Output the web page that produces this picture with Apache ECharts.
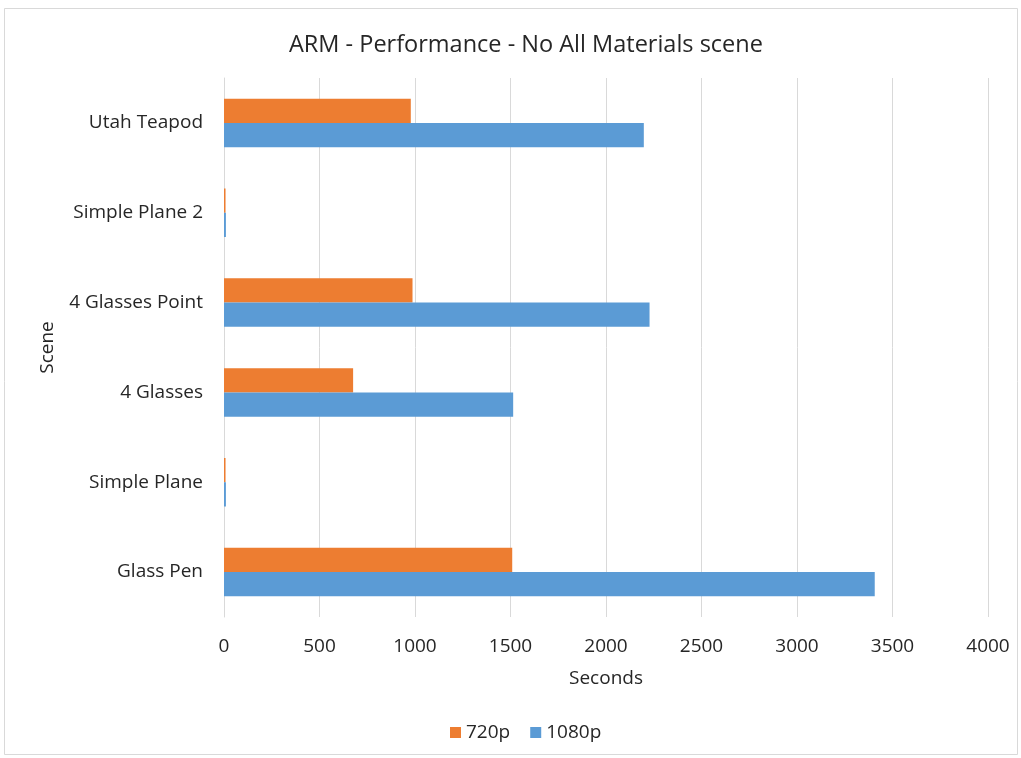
<!DOCTYPE html>
<html>
<head>
<meta charset="utf-8">
<script src="https://cdn.jsdelivr.net/npm/echarts@6/dist/echarts.min.js"></script>
<style>
  html, body { margin: 0; padding: 0; background: #fff; }
  #chart { width: 1021px; height: 758px; }
</style>
</head>
<body>
<div id="chart"></div>
<script>
// Scenes, listed bottom to top along the category axis
const scenes = ['Glass Pen', 'Simple Plane', '4 Glasses', '4 Glasses Point', 'Simple Plane 2', 'Utah Teapod'];
// Render times in seconds
const seconds720p = [1509, 8, 676, 987, 8, 978];
const seconds1080p = [3407, 10, 1514, 2228, 10, 2198];
const xTicks = [0, 500, 1000, 1500, 2000, 2500, 3000, 3500, 4000];

const FONT = '"Open Sans", Lato, sans-serif';
const TEXT = '#262626';
const chart = echarts.init(document.getElementById('chart'));

chart.setOption({
  backgroundColor: '#fff',
  animation: false,
  graphic: [{
    type: 'rect',
    shape: { x: 4.5, y: 8.5, width: 1013, height: 746 },
    style: { fill: 'none', stroke: '#d9d9d9', lineWidth: 1 },
    silent: true
  }],
  title: {
    text: 'ARM - Performance - No All Materials scene',
    left: 284,
    top: 28,
    textStyle: { fontFamily: FONT, fontSize: 23.5, fontWeight: 'normal', color: TEXT }
  },
  legend: {
    data: ['720p', '1080p'],
    bottom: 11,
    left: 445,
    itemWidth: 11,
    itemHeight: 11,
    itemGap: 20,
    icon: 'rect',
    textStyle: { fontFamily: FONT, fontSize: 19, color: TEXT }
  },
  grid: { left: 224, right: 33, top: 78, bottom: 141, containLabel: false },
  xAxis: {
    type: 'value',
    min: xTicks[0],
    max: xTicks[xTicks.length - 1],
    interval: xTicks[1] - xTicks[0],
    name: 'Seconds',
    nameLocation: 'middle',
    nameGap: 52,
    nameTextStyle: { fontFamily: FONT, fontSize: 19, color: TEXT },
    axisLine: { show: false },
    axisTick: { show: false },
    axisLabel: {
      fontFamily: FONT, fontSize: 19, color: TEXT, margin: 20,
      formatter: v => String(v)
    },
    splitLine: { lineStyle: { color: '#d9d9d9', width: 1 } }
  },
  yAxis: {
    type: 'category',
    data: scenes,
    name: 'Scene',
    nameLocation: 'middle',
    nameGap: 167,
    nameRotate: 90,
    nameTextStyle: { fontFamily: FONT, fontSize: 19, color: TEXT },
    axisLine: { show: true, lineStyle: { color: '#d9d9d9' } },
    axisTick: { show: false },
    axisLabel: { fontFamily: FONT, fontSize: 19, color: TEXT, margin: 21 }
  },
  series: [
    {
      name: '720p',
      type: 'bar',
      data: seconds720p,
      barGap: '0%',
      barCategoryGap: '46%',
      itemStyle: { color: '#ed7d31' }
    },
    {
      name: '1080p',
      type: 'bar',
      data: seconds1080p,
      barGap: '0%',
      barCategoryGap: '46%',
      itemStyle: { color: '#5b9bd5' }
    }
  ]
});
</script>
</body>
</html>
